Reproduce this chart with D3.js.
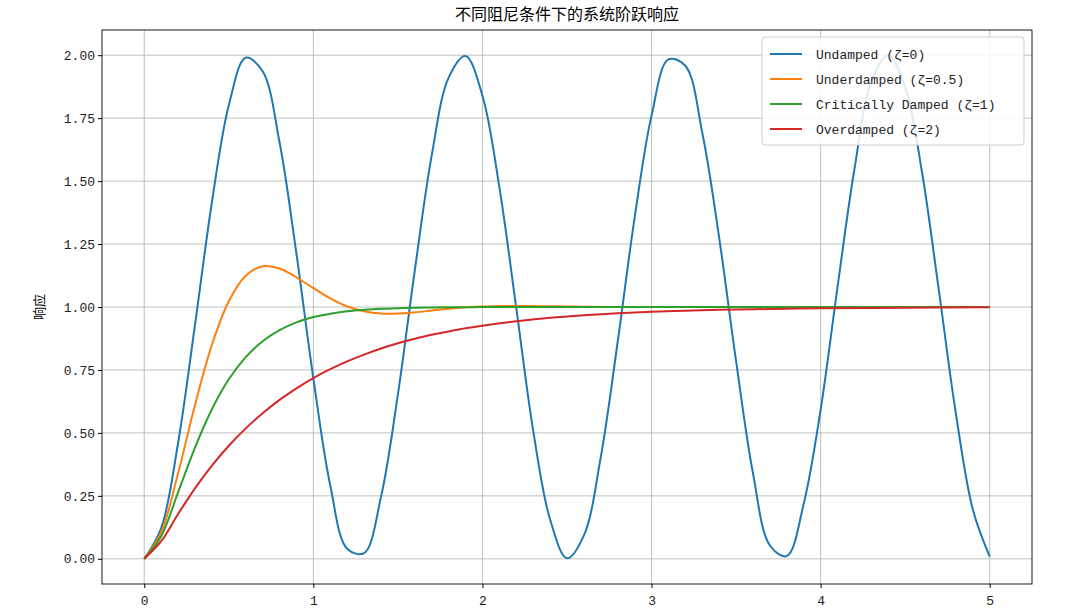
<!DOCTYPE html>
<html><head><meta charset="utf-8">
<script src="https://cdn.jsdelivr.net/npm/d3@7"></script>
<style>body{margin:0;background:#fff}</style>
</head><body>
<svg id="chart" width="1080" height="614"></svg>
<script>
// values
let tFine = d3.range(0, 51).map(i => i / 10)
let undamped = [0,0.122,0.460,0.929,1.416,1.801,1.990,1.936,1.654,1.211,0.716,0.291,0.040,0.023,0.246,0.653,1.146,1.602,1.911,1.997,1.839,1.476,0.996,0.509,0.156,0.002,0.093,0.405,0.863,1.355,1.760,1.983,1.958,1.692,1.275,0.785,0.340,0.053,0.011,0.219,0.592,1.080,1.548,1.896,2.000,1.873,1.533,1.062,0.576,0.196,0.009]
let tUnder = [0,0.1,0.2,0.3,0.4,0.5,0.6,0.7,0.8,0.9,1.0,1.1,1.2,1.3,1.4,1.5,1.6,1.7,1.8,1.9,2.0,2.1,2.2,2.3,2.4,2.5,2.6,2.7,3,4,5]
let underdamped = [0,0.105,0.340,0.611,0.850,1.023,1.124,1.162,1.153,1.118,1.075,1.034,1.002,0.983,0.974,0.974,0.979,0.986,0.993,0.999,1.002,1.004,1.004,1.004,1.003,1.002,1.001,1.000,1,1,1]
let tCrit = [0,0.1,0.2,0.3,0.4,0.5,0.6,0.7,0.8,0.9,1.0,1.1,1.2,1.3,1.4,1.5,1.6,1.7,1.8,1.9,2.0,3,4,5]
let critical = [0,0.090,0.264,0.442,0.594,0.713,0.801,0.864,0.908,0.939,0.960,0.973,0.983,0.989,0.993,0.995,0.997,0.998,0.999,0.999,1,1,1,1]
let tOver = [0,0.1,0.2,0.3,0.4,0.5,0.6,0.7,0.8,0.9,1.0,1.1,1.2,1.3,1.4,1.5,1.6,1.7,1.8,1.9,2.0,2.2,2.4,2.6,2.8,3.0,3.2,3.4,3.6,3.8,4.0,4.5,5.0]
let overdamped = [0,0.070,0.178,0.280,0.370,0.449,0.518,0.578,0.631,0.677,0.718,0.753,0.784,0.811,0.835,0.856,0.874,0.890,0.903,0.916,0.926,0.943,0.957,0.967,0.975,0.981,0.985,0.989,0.991,0.993,0.995,0.997,0.999]

let seriesNames = ["Undamped (ζ=0)", "Underdamped (ζ=0.5)", "Critically Damped (ζ=1)", "Overdamped (ζ=2)"]
let seriesColors = ["#1f77b4", "#ff7f0e", "#2ca02c", "#d62728"]
let xTicks = [0, 1, 2, 3, 4, 5]
let yTicks = [0, 0.25, 0.5, 0.75, 1, 1.25, 1.5, 1.75, 2]

let series = [
    {t: tFine, y: undamped},
    {t: tUnder, y: underdamped},
    {t: tCrit, y: critical},
    {t: tOver, y: overdamped}
]

let svg = d3.select("#chart")
let plotLeft = 102, plotRight = 1032, plotTop = 30, plotBottom = 584
let x = d3.scaleLinear().domain([-0.25, 5.25]).range([plotLeft, plotRight])
let y = d3.scaleLinear().domain([-0.1, 2.1]).range([plotBottom, plotTop])
let tickFont = "'Liberation Mono', 'Noto Sans CJK SC', monospace"

// grid
svg.append("g").selectAll("line").data(xTicks).join("line")
    .attr("x1", d => x(d)).attr("x2", d => x(d)).attr("y1", plotTop).attr("y2", plotBottom)
    .attr("stroke", "#b0b0b0").attr("stroke-width", 0.8)
svg.append("g").selectAll("line").data(yTicks).join("line")
    .attr("y1", d => y(d)).attr("y2", d => y(d)).attr("x1", plotLeft).attr("x2", plotRight)
    .attr("stroke", "#b0b0b0").attr("stroke-width", 0.8)

// axes
let xAxis = svg.append("g").attr("transform", `translate(0,${plotBottom})`)
    .call(d3.axisBottom(x).tickValues(xTicks).tickFormat(d3.format("d")).tickSize(4).tickSizeOuter(0))
let yAxis = svg.append("g").attr("transform", `translate(${plotLeft},0)`)
    .call(d3.axisLeft(y).tickValues(yTicks).tickFormat(d3.format(".2f")).tickSize(4).tickSizeOuter(0))
for (let a of [xAxis, yAxis]) {
    a.select(".domain").remove()
    a.selectAll("text").attr("font-family", tickFont).attr("font-size", 13).attr("fill", "#222")
}
xAxis.selectAll("text").attr("dy", "1.1em")

svg.append("rect").attr("x", plotLeft).attr("y", plotTop).attr("width", plotRight - plotLeft).attr("height", plotBottom - plotTop)
    .attr("fill", "none").attr("stroke", "#000").attr("stroke-width", 0.9)

// lines
let line = d3.line().curve(d3.curveCatmullRom.alpha(0.5))
svg.append("g").selectAll("path").data(series).join("path")
    .attr("d", s => line(s.t.map((t, i) => [x(t), y(s.y[i])])))
    .attr("fill", "none").attr("stroke", (s, i) => seriesColors[i]).attr("stroke-width", 2)

// title and label
svg.append("text").attr("x", (plotLeft + plotRight) / 2).attr("y", 20).attr("text-anchor", "middle")
    .attr("font-family", "'Noto Sans CJK SC'").attr("font-size", 16).text("不同阻尼条件下的系统阶跃响应")
svg.append("text").attr("transform", `translate(44,${(plotTop + plotBottom) / 2}) rotate(-90)`)
    .attr("text-anchor", "middle").attr("font-family", "'Noto Sans CJK SC'").attr("font-size", 13).text("响应")

// legend
let lg = svg.append("g")
lg.append("rect").attr("x", 762).attr("y", 37).attr("width", 262).attr("height", 108).attr("rx", 3)
    .attr("fill", "#fff").attr("fill-opacity", 0.85).attr("stroke", "#ccc")
let items = lg.selectAll("g").data(seriesNames).join("g")
    .attr("transform", (d, i) => `translate(0,${54 + i * 25})`)
items.append("line").attr("x1", 770).attr("x2", 802).attr("stroke", (d, i) => seriesColors[i]).attr("stroke-width", 2)
items.append("text").attr("x", 816).attr("dy", "0.35em").attr("font-family", tickFont).attr("font-size", 13)
    .attr("fill", "#222").text(d => d)
</script>
</body></html>
